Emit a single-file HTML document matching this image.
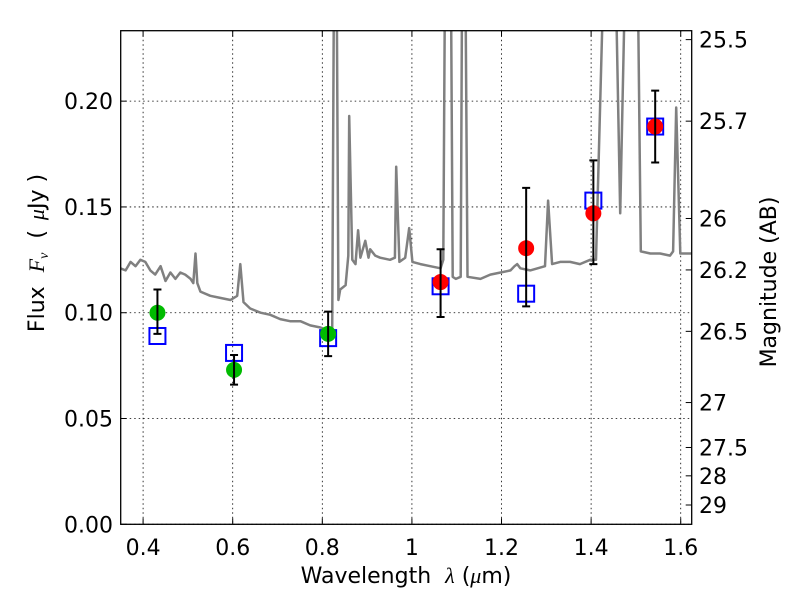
<!DOCTYPE html>
<html><head><meta charset="utf-8"><style>
html,body{margin:0;padding:0;background:#fff;}
svg{display:block;font-family:"DejaVu Sans","Liberation Sans",sans-serif;}
</style></head><body>
<svg id="chart" width="800" height="600" viewBox="0 0 800 600">
<defs><clipPath id="clip"><rect x="120.7" y="30.7" width="571" height="493.6"/></clipPath></defs>
<rect x="0" y="0" width="800" height="600" fill="#fff"/>
<g id="grid"></g>
<g id="spec" clip-path="url(#clip)"></g>
<g id="marks" clip-path="url(#clip)"></g>
<rect x="120.7" y="30.7" width="571" height="493.6" fill="none" stroke="#000" stroke-width="1.3"/>
<g id="axes"></g>
<text x="406" y="583" font-size="22" text-anchor="middle">Wavelength<tspan dx="14" font-family="Liberation Serif" font-style="italic">λ</tspan> (<tspan font-family="Liberation Serif" font-style="italic">μ</tspan>m)</text>
<text transform="translate(44,253) rotate(-90)" font-size="22" text-anchor="middle">Flux<tspan dx="14" font-family="Liberation Serif" font-style="italic">F<tspan font-size="14" dy="4">ν</tspan></tspan><tspan dy="-4" dx="14">(</tspan><tspan dx="10" font-family="Liberation Serif" font-style="italic">μ</tspan>Jy )</text>
<text transform="translate(776,282) rotate(-90)" font-size="22" text-anchor="middle">Magnitude (AB)</text>
</svg>
<script>
const specLam = [0.349,0.361,0.372,0.383,0.394,0.405,0.416,0.427,0.439,0.450,0.461,0.472,0.483,0.494,0.506,0.512,0.517,0.521,0.528,0.550,0.572,0.595,0.610,0.617,0.624,0.639,0.662,0.684,0.706,0.728,0.751,0.773,0.796,0.809,0.818,0.822,0.827,0.831,0.836,0.840,0.852,0.858,0.860,0.867,0.874,0.880,0.885,0.896,0.903,0.907,0.918,0.929,0.951,0.962,0.965,0.972,0.985,0.994,1.001,1.019,1.041,1.064,1.070,1.075,1.086,1.091,1.098,1.109,1.113,1.118,1.124,1.153,1.175,1.198,1.220,1.229,1.235,1.242,1.264,1.297,1.304,1.313,1.331,1.353,1.375,1.398,1.411,1.433,1.442,1.451,1.465,1.480,1.491,1.502,1.511,1.532,1.554,1.576,1.583,1.590,1.599,1.625];
const specFlux = [0.121,0.120,0.124,0.122,0.125,0.124,0.120,0.118,0.122,0.115,0.119,0.116,0.119,0.118,0.116,0.114,0.128,0.114,0.110,0.108,0.107,0.106,0.108,0.123,0.105,0.102,0.100,0.099,0.097,0.096,0.096,0.094,0.093,0.092,0.091,0.091,0.30,0.30,0.106,0.111,0.113,0.127,0.193,0.125,0.123,0.139,0.126,0.134,0.126,0.130,0.127,0.126,0.125,0.126,0.169,0.124,0.126,0.140,0.124,0.123,0.122,0.121,0.125,0.30,0.30,0.117,0.116,0.117,0.30,0.30,0.117,0.116,0.118,0.119,0.120,0.122,0.123,0.121,0.120,0.122,0.153,0.123,0.124,0.124,0.123,0.125,0.125,0.30,0.30,0.30,0.147,0.30,0.30,0.30,0.129,0.128,0.128,0.127,0.129,0.197,0.128,0.128];
const greenLam = [0.432,0.603,0.813];
const greenFlux = [0.100,0.073,0.090];
const greenErrHi = [0.111,0.080,0.1005];
const greenErrLo = [0.090,0.066,0.0795];
const redLam = [1.064,1.255,1.405,1.543];
const redFlux = [0.1145,0.1305,0.147,0.188];
const redErrHi = [0.130,0.159,0.172,0.205];
const redErrLo = [0.098,0.103,0.123,0.171];
const modelLam = [0.432,0.603,0.813,1.064,1.255,1.405,1.543];
const modelFlux = [0.089,0.081,0.088,0.1125,0.109,0.153,0.188];
const xTicks = [0.4,0.6,0.8,1.0,1.2,1.4,1.6];
const xTickLabels = ["0.4","0.6","0.8","1","1.2","1.4","1.6"];
const yTicks = [0,0.05,0.10,0.15,0.20];
const yTickLabels = ["0.00","0.05","0.10","0.15","0.20"];
const magTicks = [25.5,25.7,26,26.2,26.5,27,27.5,28,29];
const magTickLabels = ["25.5","25.7","26","26.2","26.5","27","27.5","28","29"];

const X0=120.7,X1=691.7,Y0=524.3,Y1=30.7,LMIN=0.35,LMAX=1.6245,FMAX=0.2333;
const sx=l=>X0+(l-LMIN)/(LMAX-LMIN)*(X1-X0);
const sy=f=>Y0-f/FMAX*(Y0-Y1);
const magToFlux=m=>Math.pow(10,(23.9-m)/2.5);
const NS='http://www.w3.org/2000/svg';
function mk(tag,attrs,parent){const e=document.createElementNS(NS,tag);for(const k in attrs)e.setAttribute(k,attrs[k]);parent.appendChild(e);return e;}
const grid=document.getElementById('grid'),axes=document.getElementById('axes'),spec=document.getElementById('spec'),marks=document.getElementById('marks');

xTicks.forEach((t,i)=>{
  const x=sx(t);
  const g=mk('line',{x1:x,x2:x,y1:Y1,y2:Y0,stroke:'#000','stroke-width':0.8,'stroke-dasharray':'1.5,3'},grid);
  
  
  const tk=mk('path',{d:`M${x},${Y0}v-6M${x},${Y1}v6`,stroke:'#000','stroke-width':1},axes);
  
  
  const tx=mk('text',{x:x,y:555,'font-size':22,'text-anchor':'middle'},axes);
  tx.textContent=xTickLabels[i];
  
  
});
yTicks.forEach((t,i)=>{
  const y=sy(t);
  const g=mk('line',{x1:X0,x2:X1,y1:y,y2:y,stroke:'#000','stroke-width':0.8,'stroke-dasharray':'1.5,3'},grid);
  
  
  const tk=mk('path',{d:`M${X0},${y}h6`,stroke:'#000','stroke-width':1},axes);
  
  
  const tx=mk('text',{x:113,y:y+8,'font-size':22,'text-anchor':'end'},axes);
  tx.textContent=yTickLabels[i];
  
  
});
magTicks.forEach((m,i)=>{
  const y=sy(magToFlux(m));
  const tk=mk('path',{d:`M${X1},${y}h-6`,stroke:'#000','stroke-width':1},axes);
  
  
  const tx=mk('text',{x:699,y:y+8,'font-size':22,'text-anchor':'start'},axes);
  tx.textContent=magTickLabels[i];
  
  
});

const d=specLam.map((l,i)=>(i?'L':'M')+sx(l).toFixed(1)+','+sy(specFlux[i]).toFixed(1)).join('');
const sp=mk('path',{d:d,fill:'none',stroke:'#808080','stroke-width':2.5,'stroke-linejoin':'round'},spec);



modelLam.forEach((l,i)=>{
  const x=sx(l),y=sy(modelFlux[i]);
  const r=mk('rect',{x:x-8,y:y-8,width:16,height:16,fill:'none',stroke:'#0000ff','stroke-width':2},marks);
  
  
});
function pts(lam,flux,hi,lo,color,name){
  lam.forEach((l,i)=>{
    const x=sx(l);
    const c=mk('circle',{cx:x,cy:sy(flux[i]),r:8,fill:color},marks);
    
    
  });
  lam.forEach((l,i)=>{
    const x=sx(l),yh=sy(hi[i]),yl=sy(lo[i]);
    const e=mk('path',{d:`M${x},${yh}V${yl}M${x-4},${yh}h8M${x-4},${yl}h8`,stroke:'#000','stroke-width':2},marks);
    
    
  });
}
pts(greenLam,greenFlux,greenErrHi,greenErrLo,'#00bb00','green-point');
pts(redLam,redFlux,redErrHi,redErrLo,'#ff0000','red-point');
</script>
</body></html>
